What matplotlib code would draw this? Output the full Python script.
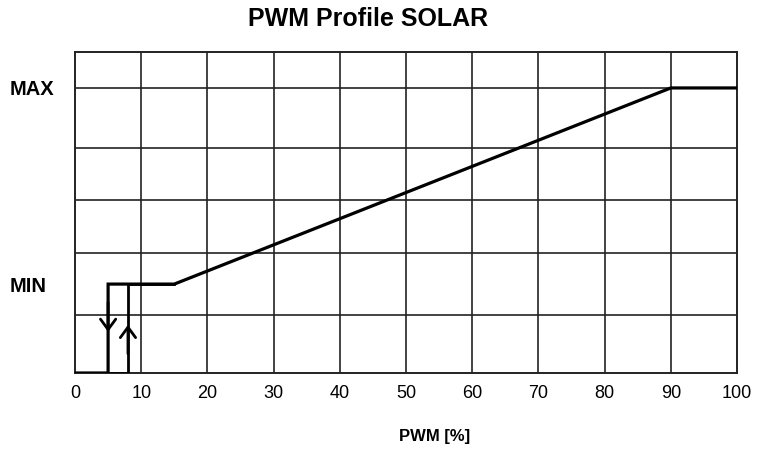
import matplotlib
matplotlib.use("Agg")
import matplotlib.pyplot as plt

plt.rcParams['font.family'] = ['Liberation Sans Narrow', 'Liberation Sans', 'DejaVu Sans']

# Data
title = "PWM Profile SOLAR"
xlabel = "PWM [%]"
x_ticks = [0, 10, 20, 30, 40, 50, 60, 70, 80, 90, 100]
y_grid = [0, 18.1, 37.4, 53.9, 70.1, 88.8, 100]
MIN = 27.7
MAX = 88.8
y_label_vals = [MIN, MAX]
y_label_text = ["MIN", "MAX"]

# main profile (falling branch via x=5)
profile_x = [0, 5, 5, 15, 90, 100]
profile_y = [0, 0, MIN, MIN, MAX, MAX]
# rising branch at x=8 (hysteresis)
rise_x = [5, 8, 8, 15]
rise_y = [0, 0, MIN, MIN]
# arrows: (x, tip y, tail y)
arrow_x = [5, 8]
arrow_tip = [12.8, 15.0]
arrow_tail = [22.0, 6.0]

fig = plt.figure(figsize=(7.65, 4.5), dpi=100)
ax = fig.add_axes([75/765, 1-373/450, (737-75)/765, (373-52)/450])

ax.set_xlim(0, 100)
ax.set_ylim(0, 100)

ax.plot(rise_x, rise_y, color='black', lw=2.0, solid_joinstyle='miter', zorder=3)
ax.plot(profile_x, profile_y, color='black', lw=2.3, solid_joinstyle='miter', zorder=4)
for xa, yt, ys in zip(arrow_x, arrow_tip, arrow_tail):
    ax.annotate("", xy=(xa, yt), xytext=(xa, ys),
                arrowprops=dict(arrowstyle='->,head_length=0.75,head_width=0.55',
                                lw=2.0, color='black', shrinkA=0, shrinkB=0),
                zorder=5)

# grid
ax.set_xticks(x_ticks)
ax.set_xticklabels([str(v) for v in x_ticks], fontsize=13)
ax.tick_params(axis='x', length=0, pad=9)
for xv in x_ticks[1:-1]:
    ax.axvline(xv, color='#222222', lw=1.2, zorder=1)
for yv in y_grid[1:-1]:
    ax.axhline(yv, color='#222222', lw=1.2, zorder=1)

ax.set_yticks(y_label_vals)
ax.set_yticklabels(y_label_text, fontsize=14.5, fontweight='bold')
ax.tick_params(axis='y', length=0, pad=47)
for t in ax.get_yticklabels():
    t.set_horizontalalignment('left')

for s in ax.spines.values():
    s.set_color('#222222')
    s.set_linewidth(1.4)

fig.text(368/765, 1-19/450, title, ha='center', va='center', fontsize=18, fontweight='bold')
fig.text(435/765, 1-437/450, xlabel, ha='center', va='center', fontsize=12, fontweight='bold')

fig.savefig("out.png", dpi=100)
